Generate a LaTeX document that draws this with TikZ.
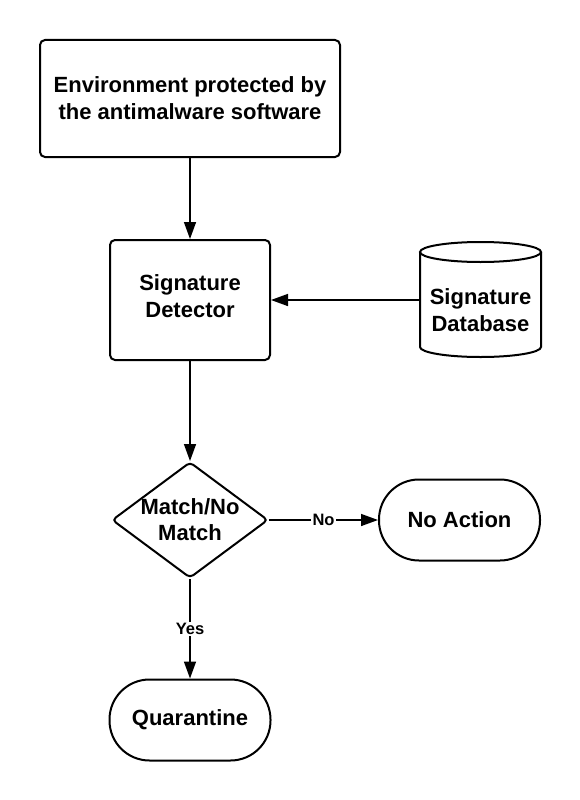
\documentclass[tikz,border=0pt]{standalone}
\usepackage{fontspec}
\setmainfont{Liberation Sans}
\usetikzlibrary{arrows.meta,shapes.geometric}
\tikzset{
  txt/.style={align=center, font=\bfseries\fontsize{22}{27}\selectfont},
  box/.style={draw, line width=2pt, rounded corners=5pt, txt, inner sep=0pt},
  term/.style={draw, line width=2pt, rounded corners=40pt, txt, inner sep=0pt, minimum width=161pt, minimum height=81pt},
  dec/.style={draw, diamond, line width=2pt, rounded corners=4pt, align=center, font=\bfseries\fontsize{22}{26}\selectfont, inner sep=0pt, minimum width=156pt, minimum height=116pt, aspect=1.345},
  conn/.style={line width=1.5pt, -{Triangle[length=17pt,width=12pt]}},
  lbl/.style={fill=white, font=\bfseries\fontsize{16.5}{18}\selectfont, inner sep=1.5pt}
}
\begin{document}
\begin{tikzpicture}[x=1pt,y=-1pt]
\useasboundingbox (0,0) rectangle (580,800);
\node[box, minimum width=300pt, minimum height=117pt] (env) at (190,98.5) {Environment protected by\\the antimalware software};
\node[box, minimum width=160pt, minimum height=120pt,
  label={[txt, yshift=4pt]center:Signature\\Detector}] (det) at (190,300) {};
\node[inner sep=0pt, minimum width=121pt, minimum height=115pt,
  label={[txt, yshift=-10pt]center:Signature\\Database}] (db) at (480.5,300) {};
\draw[line width=2pt] (420,252) -- (420,347) arc[start angle=180, end angle=360, x radius=60.5pt, y radius=10pt] -- (541,252);
\draw[line width=2pt] (480.5,252) ellipse[x radius=60.5pt, y radius=10pt];
\node[dec] (dm) at (190,520) {Match/No\\Match};
\node[term] (na) at (459.5,520) {No Action};
\node[term] (qu) at (190,720) {Quarantine};
\draw[conn] (env) -- (det);
\draw[conn] (db.west) -- (det.east);
\draw[conn] (det) -- (dm);
\draw[conn] (dm.east) -- node[lbl] {No} (na.west);
\draw[conn] (dm.south) -- node[lbl] {Yes} (qu.north);
\end{tikzpicture}
\end{document}
